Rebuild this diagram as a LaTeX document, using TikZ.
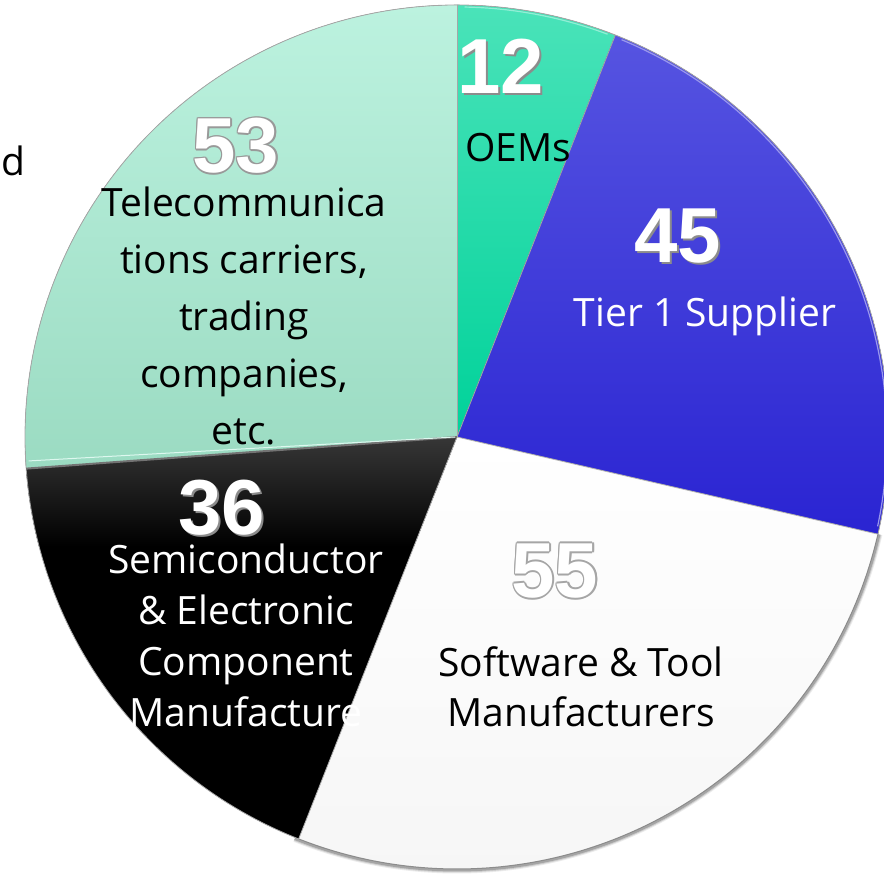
\documentclass[tikz,border=0pt]{standalone}
\usepackage{fontspec}
\setmainfont{Open Sans}
\newfontfamily\numfam{Liberation Sans}
\definecolor{telTop}{HTML}{BCF2DF}
\definecolor{telBot}{HTML}{9BDBC2}
\definecolor{oemTop}{HTML}{4AE3B9}
\definecolor{oemBot}{HTML}{00D29A}
\definecolor{tierTop}{HTML}{5654E1}
\definecolor{tierBot}{HTML}{2A24D2}
\definecolor{semiTop}{HTML}{464646}
\definecolor{softTop}{HTML}{FFFFFF}
\definecolor{softBot}{HTML}{F6F6F6}
\newcommand\outlinednum[5]{% name, x, y, text, outline colour
  \foreach \dx/\dy [count=\k] in {1.6/0,-1.6/0,0/1.6,0/-1.6,1.2/1.2,-1.2/1.2,1.2/-1.2,-1.2/-1.2}
    \node[numlbl,text=#5] (#1o\k) at (#2+\dx,#3+\dy) {#4};
  \node[numlbl,text=white] (#1) at (#2,#3) {#4};}
\newcommand\shadownum[4]{% name, x, y, text
  \node[numlbl,text=black!45] (#1s) at (#2+1.8,#3-1.8) {#4};
  \node[numlbl,text=white] (#1) at (#2,#3) {#4};}
\begin{document}
\begin{tikzpicture}[x=1pt,y=1pt,
  lbl/.style={inner sep=0pt, align=center, anchor=base, font=\fontsize{39}{55}\selectfont},
  numlbl/.style={inner sep=0pt, font=\numfam\bfseries\fontsize{78}{78}\selectfont},
  rim/.style={draw=black!35, line width=0.8pt, line join=round}]
\useasboundingbox (0,0) rectangle (884,877);
\clip (0,0) rectangle (884,877);
\coordinate (c) at (457,440);
\def\R{432}
% soft shadow around outer rim
\foreach \w/\o in {7/0.08,5/0.12,3/0.2}
  \draw[black, opacity=\o, line width=\w pt] (c) ++(-13:\R+1) arc[start angle=-13, end angle=-112, radius=\R+1];
% Telecom
\fill[top color=telTop, bottom color=telBot] (c) -- ++(184.2:\R) arc[start angle=184.2, end angle=90, radius=\R] -- cycle;
% OEMs
\fill[top color=oemTop, bottom color=oemBot] (c) -- ++(90:\R) arc[start angle=90, end angle=68.5, radius=\R] -- cycle;
% Tier 1
\fill[top color=tierTop, bottom color=tierBot] (c) -- ++(68.5:\R) arc[start angle=68.5, end angle=-13, radius=\R] -- cycle;
% Software
\fill[top color=softTop, bottom color=softBot] (c) -- ++(-13:\R) arc[start angle=-13, end angle=-111.5, radius=\R] -- cycle;
% Semiconductor: black with a grey glow along its top edge
\begin{scope}
  \clip (c) -- ++(-111.5:\R) arc[start angle=-111.5, end angle=-175.8, radius=\R] -- cycle;
  \fill[black] (0,0) rectangle (460,445);
  \fill[top color=semiTop, bottom color=black] (0,470) rectangle (460,330);
\end{scope}
% rims / bevel lines
\draw[rim] (c) ++(184.2:\R) arc[start angle=184.2, end angle=90, radius=\R];
\draw[draw=oemTop!60!white, line width=1.2pt] (c) ++(89:\R-2) arc[start angle=89, end angle=69.5, radius=\R-2];
\draw[draw=tierTop!60!white, line width=1.2pt] (c) ++(67.5:\R-2) arc[start angle=67.5, end angle=-12, radius=\R-2];
\draw[rim] (c) ++(90:\R) arc[start angle=90, end angle=-13, radius=\R];
\draw[draw=black!45, line width=1pt] (c) ++(-13:\R) arc[start angle=-13, end angle=-111.5, radius=\R];
\draw[rim] (c) ++(-111.5:\R) arc[start angle=-111.5, end angle=-175.8, radius=\R];
\draw[rim] (c) -- ++(90:\R);
\draw[rim] (c) -- ++(68.5:\R);
\draw[draw=black!30, line width=0.8pt] (c) -- ++(-13:\R);
\draw[draw=black!30, line width=0.8pt] (c) -- ++(-111.5:\R);
\draw[draw=black!55, line width=2pt] (c) -- ++(-175.8:\R);
\draw[draw=telTop!50!white, line width=1pt] (c) ++(183.2:\R-3) -- ([shift={(-2,0)}]c);
% cut-off word on the left
\node[lbl, anchor=base east] (d) at (26,701) {d};
% numbers
\shadownum{n12}{501}{811}{12}
\outlinednum{n53}{236}{731}{53}{black!40}
\shadownum{n45}{678}{641}{45}
\shadownum{n36}{222}{369}{36}
\outlinednum{n55}{555}{306}{55}{black!35}
% labels (base anchor = baseline of the last line)
\node[lbl] (oem) at (518,715) {OEMs};
\node[lbl, font=\fontsize{39}{57}\selectfont] (tel) at (244,432)
  {Telecommunica\\tions carriers,\\trading\\companies,\\etc.};
\node[lbl, text=white] (tier) at (705,550) {Tier 1 Supplier};
\node[lbl, text=white, font=\fontsize{39}{51}\selectfont] (semi) at (246,150)
  {Semiconductor\\\& Electronic\\Component\\Manufacture};
\node[lbl, font=\fontsize{39}{50}\selectfont] (soft) at (581,150)
  {Software \& Tool\\Manufacturers};
\end{tikzpicture}
\end{document}
